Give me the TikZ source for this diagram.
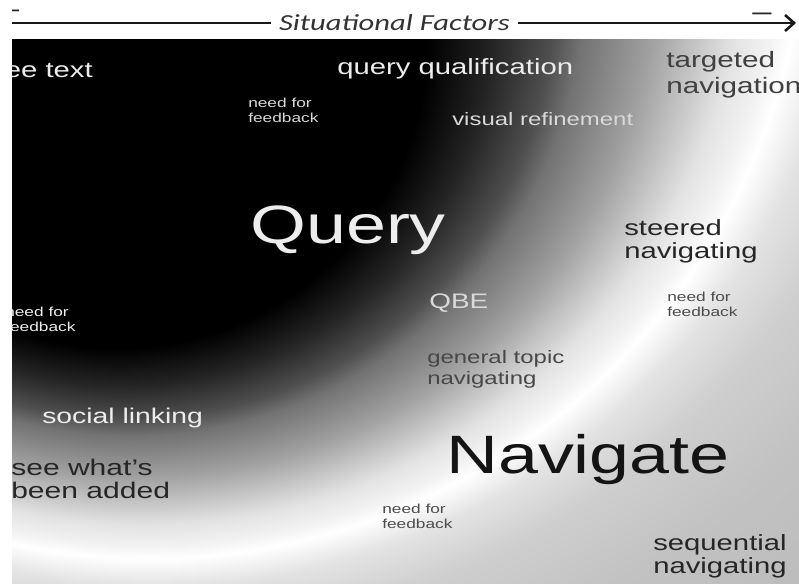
\documentclass[tikz,border=0pt]{standalone}
\usepackage{fontspec}
\setmainfont{Liberation Sans}
\newfontfamily\headfont{Carlito}
\usetikzlibrary{arrows.meta}

% off-centre radial shading: black core at the upper left, a bright ridge,
% then a soft grey beyond it (1bp of the shading = 48 units of the picture)
\pgfdeclareradialshading{glowring}{\pgfpoint{-2.392bp}{-9.775bp}}{%
  color(0bp)=(black); color(6.458bp)=(black); color(7.708bp)=(black!86);
  color(8.875bp)=(black!69); color(9.458bp)=(black!55); color(10.854bp)=(black!37);
  color(11.667bp)=(black!24); color(12.5bp)=(black!11); color(13.229bp)=(black!5);
  color(13.646bp)=(white); color(14.583bp)=(black!11); color(16.042bp)=(black!19);
  color(18.542bp)=(black!24); color(21.458bp)=(black!26); color(25bp)=(black!27)}

\newcommand\stacked[2]{\begin{tabular}[t]{@{}l@{}}#1\\#2\end{tabular}}

\colorlet{paleink}{white!93!black}
\colorlet{greyink}{white!85!black}
\colorlet{darkink}{black!85}
\colorlet{midink}{black!75}

\tikzset{
  lbl/.style={inner sep=0pt, xscale=1.33, anchor=base west},
  huge/.style={lbl, font=\fontsize{54}{60}\selectfont},
  large/.style={lbl, font=\fontsize{22}{23}\selectfont},
  medium/.style={lbl, font=\fontsize{18}{21}\selectfont},
  tiny/.style={lbl, font=\fontsize{13}{15}\selectfont},
  heading/.style={inner ysep=0pt, inner xsep=6pt, xscale=1.33, anchor=base,
    text=black!80, font=\headfont\itshape\fontsize{23}{26}\selectfont},
  dashmark/.style={inner sep=0pt, xscale=1.33, anchor=base, text=black!85,
    font=\fontsize{26}{28}\selectfont},
  axis/.style={draw=black!90, line width=2.6pt}
}

\begin{document}
\begin{tikzpicture}[x=1pt,y=-1pt]
\useasboundingbox (0,0) rectangle (799,583);
\fill[white] (0,0) rectangle (799,583);

% axis above the panel
\begin{scope}
  \clip (12,0) rectangle (799,40);
  \node[dashmark] (lowend) at (9.5,17.8) {–};
  \node[dashmark] (highend) at (762,20.3) {–};
  \node[heading] (factors) at (394.5,31) {Situational Factors};
  \coordinate (axisstart) at (12,23);
  \coordinate (axisend) at (796,23);
  \draw[axis] (axisstart) -- (factors.west |- axisstart);
  \draw[axis,-{Straight Barb[length=9pt,width=16pt]}]
    (factors.east |- axisend) -- (axisend);
\end{scope}

% shaded panel with its labels
\begin{scope}
  \clip (12,40) rectangle (799,583);
  \shade[shading=glowring] (202.1,-309.9) circle [radius=1200pt];

  \node[large, anchor=base east, text=paleink] (freetext) at (93,78) {free text};
  \node[large, text=paleink] (qualify) at (337,75) {query qualification};
  \node[tiny, text=greyink] (fbtop) at (248,107) {\stacked{need for}{feedback}};
  \node[medium, text=greyink] (refine) at (452,125) {visual refinement};
  \node[large, text=midink, font=\fontsize{22.3}{25}\selectfont] (targeted) at (666,68)
    {\stacked{targeted}{navigation}};
  \node[huge, text=paleink] (query) at (250,243) {Query};
  \node[large, text=darkink] (steered) at (624,235) {\stacked{steered}{navigating}};
  \node[lbl, font=\fontsize{21}{22}\selectfont, text=greyink] (qbe) at (429,308) {QBE};
  \node[tiny, text=black!70] (fbright) at (667,301) {\stacked{need for}{feedback}};
  \node[tiny, text=paleink, font=\fontsize{13}{15.5}\selectfont] (fbleft) at (5,316)
    {\stacked{need for}{feedback}};
  \node[medium, text=black!72] (general) at (427,363) {\stacked{general topic}{navigating}};
  \node[lbl, font=\fontsize{21.3}{23}\selectfont, text=paleink] (social) at (42,423) {social linking};
  \node[large, text=darkink, font=\fontsize{22.6}{23}\selectfont] (added) at (11,475)
    {\stacked{see what’s}{been added}};
  \node[huge, text=black!92] (navigate) at (446,473) {Navigate};
  \node[tiny, text=black!70] (fbbottom) at (382,513) {\stacked{need for}{feedback}};
  \node[large, text=darkink] (sequential) at (653,550) {\stacked{sequential}{navigating}};
\end{scope}
\end{tikzpicture}
\end{document}
